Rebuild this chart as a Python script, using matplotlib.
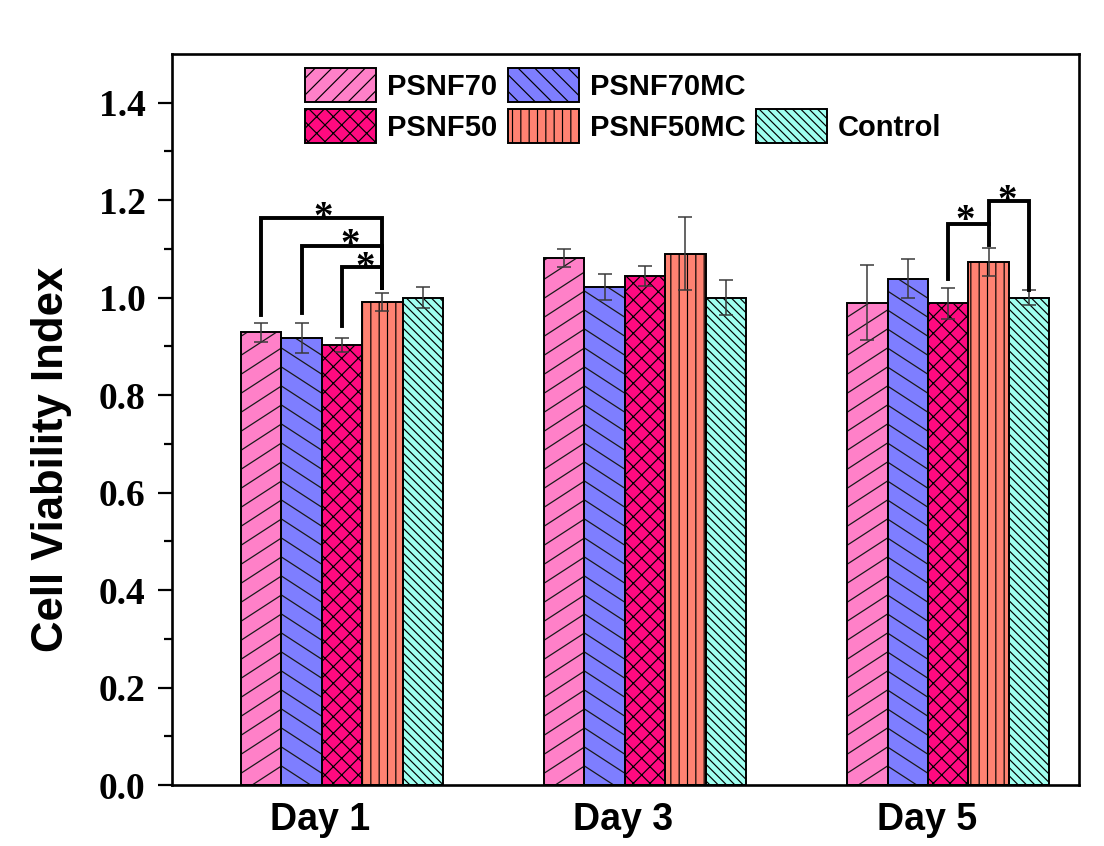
import numpy as np
import matplotlib
matplotlib.use("Agg")
import matplotlib.pyplot as plt
from matplotlib.patches import Patch
from matplotlib.collections import LineCollection
from matplotlib.transforms import IdentityTransform

# ---- data -------------------------------------------------------------
days = ["Day 1", "Day 3", "Day 5"]
series = ["PSNF70", "PSNF70MC", "PSNF50", "PSNF50MC", "Control"]

psnf70 = [0.929, 1.081, 0.990]
psnf70mc = [0.917, 1.022, 1.039]
psnf50 = [0.903, 1.044, 0.988]
psnf50mc = [0.991, 1.090, 1.073]
control = [1.000, 1.000, 1.000]

psnf70_err = [0.019, 0.018, 0.077]
psnf70mc_err = [0.031, 0.027, 0.040]
psnf50_err = [0.015, 0.020, 0.031]
psnf50mc_err = [0.018, 0.075, 0.029]
control_err = [0.022, 0.036, 0.016]

# significance brackets: (day index, left series, right series,
#                         bar height, left foot, right foot)
brackets = [
    (0, 0, 3, 1.164, 0.965, 1.020),
    (0, 1, 3, 1.107, 0.969, 1.020),
    (0, 2, 3, 1.062, 0.941, 1.020),
    (2, 2, 3, 1.151, 1.039, 1.109),
    (2, 3, 4, 1.198, 1.151, 1.016),
]
# star positions: (day index, offset from group centre, baseline height)
stars = [
    (0, -0.063, 1.142),
    (0, 0.026, 1.087),
    (0, 0.077, 1.040),
    (2, 0.056, 1.136),
    (2, 0.194, 1.178),
]

values = [psnf70, psnf70mc, psnf50, psnf50mc, control]
errors = [psnf70_err, psnf70mc_err, psnf50_err, psnf50mc_err, control_err]
colors = ["#FF80C8", "#7E7EFF", "#FF0A80", "#FF8272", "#A0FFF0"]
# standard hatches; None means a slanted hatch drawn by hand
hatches = [None, None, "xx", "||", "\\\\\\\\"]
legend_hatches = ["//", "\\\\", "xx", "||", "\\\\\\\\"]
# slope (pixels up per pixel right) and vertical spacing in pixels
slants = [(0.65, 19), (-0.65, 19), None, None, None]

# ---- style ------------------------------------------------------------
plt.rcParams["hatch.linewidth"] = 0.85
serif_bold = dict(family="Liberation Serif", weight="bold")
sans_bold = dict(family="Liberation Sans", weight="bold")

fig = plt.figure(figsize=(11.04, 8.46), dpi=100)
ax = fig.add_axes([0.1558, 0.0721, 0.8216, 0.8641])
ax.set_xlim(-0.561, 2.432)
ax.set_ylim(0, 1.5)

width = 0.1333
x = np.arange(len(days))


def bar_x(day, s):
    return x[day] + (s - 2) * width


def slant_hatch(rect, slope, spacing):
    """Hatch a bar with parallel lines of arbitrary slope, clipped to it."""
    bb = rect.get_window_extent()
    w = bb.x1 - bb.x0
    rise = abs(slope) * w
    segs = []
    for c in np.arange(bb.y0 - rise - spacing, bb.y1 + spacing, spacing):
        if slope > 0:
            segs.append([(bb.x0, c), (bb.x1, c + rise)])
        else:
            segs.append([(bb.x0, c + rise), (bb.x1, c)])
    lc = LineCollection(segs, colors="#1a1a1a", linewidths=0.9,
                        transform=IdentityTransform(), zorder=2.2)
    ax.add_collection(lc, autolim=False)
    lc.set_clip_path(rect)


for s, name in enumerate(series):
    b = ax.bar(x + (s - 2) * width, values[s], width,
               color=colors[s], edgecolor="none", linewidth=0,
               hatch=hatches[s], zorder=2)
    if hatches[s] is not None:
        for r in b:
            r.set_edgecolor("black")
    if slants[s] is not None:
        for r in b:
            slant_hatch(r, *slants[s])
    # outline on top of the hatching
    ax.bar(x + (s - 2) * width, values[s], width, facecolor="none",
           edgecolor="black", linewidth=1.4, zorder=2.4)
    ax.errorbar(x + (s - 2) * width, values[s], yerr=errors[s],
                fmt="none", ecolor="#3a3a3a", elinewidth=1.1,
                capsize=5, capthick=1.1, zorder=3)

for day, s1, s2, h, f1, f2 in brackets:
    xl, xr = bar_x(day, s1), bar_x(day, s2)
    ax.plot([xl, xl, xr, xr], [f1, h, h, f2], color="black",
            lw=2.8, solid_joinstyle="miter", zorder=4)

for day, dx, yb in stars:
    ax.text(x[day] + dx, yb, "*", ha="center", va="baseline",
            fontsize=28, zorder=5, **serif_bold)

# ---- axes -------------------------------------------------------------
ax.set_xticks(x - 0.071)
ax.set_xticklabels(days, fontsize=27, **sans_bold)
ax.tick_params(axis="x", length=0, pad=12)
ax.set_yticks(np.round(np.arange(0, 1.41, 0.2), 1))
ax.set_yticks(np.round(np.arange(0.1, 1.31, 0.2), 1), minor=True)
ax.set_yticklabels([f"{v:.1f}" for v in np.arange(0, 1.41, 0.2)],
                   fontsize=27, **serif_bold)
ax.tick_params(axis="y", which="major", direction="out", length=10,
               width=1.6, pad=9)
ax.tick_params(axis="y", which="minor", direction="out", length=6,
               width=1.6)
for sp in ax.spines.values():
    sp.set_linewidth(1.9)

ax.set_ylabel("Cell Viability Index", fontsize=31.5, **sans_bold)
ax.yaxis.set_label_coords(-0.11, 0.445)

# legend laid out in three columns, with the third column's first row empty
proxies = [Patch(facecolor=colors[s], edgecolor="black", linewidth=1.4,
                 hatch=legend_hatches[s]) for s in range(len(series))]
blank = Patch(facecolor="none", edgecolor="none")
handles = [proxies[0], proxies[2], proxies[1], proxies[3], blank, proxies[4]]
labels = ["PSNF70", "PSNF50", "PSNF70MC", "PSNF50MC", "", "Control"]
ax.legend(handles, labels, ncol=3, loc="upper left",
          bbox_to_anchor=(305 / 1104, 1 - 68 / 846),
          bbox_transform=fig.transFigure, frameon=False,
          prop=dict(family="Liberation Sans", weight="bold", size=21),
          handlelength=2.45, handleheight=1.41, handletextpad=0.37,
          columnspacing=0.35, labelspacing=0.26, borderpad=0,
          borderaxespad=0)

fig.savefig("out.png", dpi=100, facecolor="white")
